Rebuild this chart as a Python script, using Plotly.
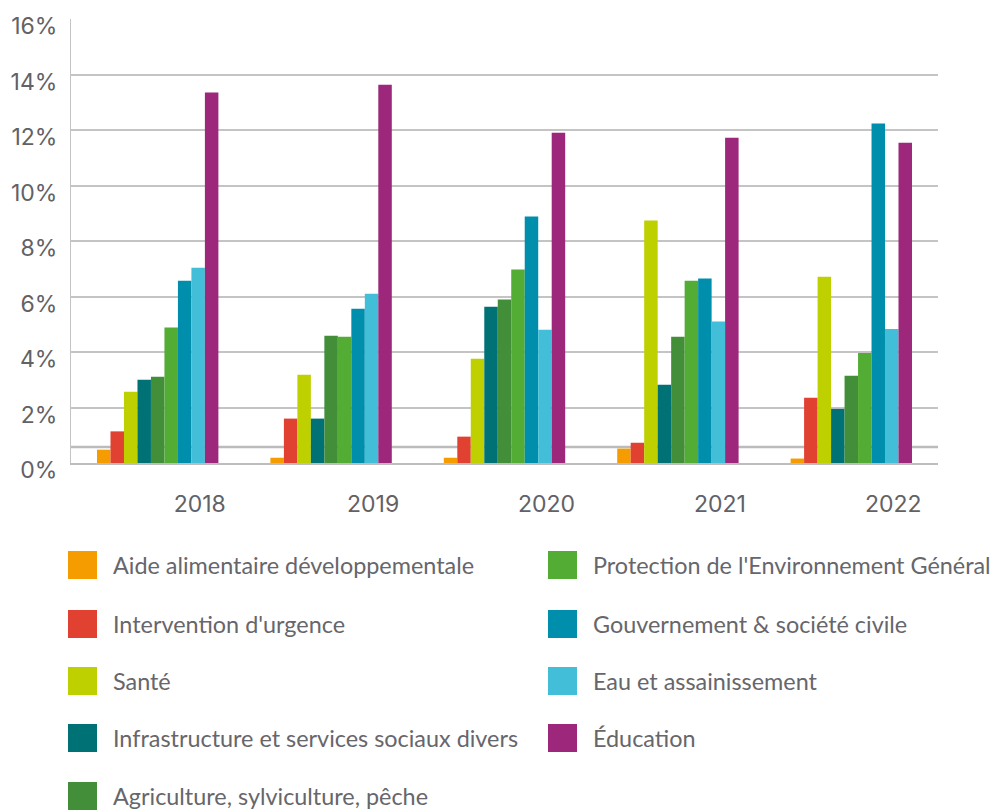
import plotly.graph_objects as go

years = ["2018", "2019", "2020", "2021", "2022"]

categories = [
    "Aide alimentaire développementale",
    "Intervention d'urgence",
    "Santé",
    "Infrastructure et services sociaux divers",
    "Agriculture, sylviculture, pêche",
    "Protection de l'Environnement Général",
    "Gouvernement & société civile",
    "Eau et assainissement",
    "Éducation",
]

aide_alimentaire = [0.48, 0.19, 0.19, 0.52, 0.16]
intervention_urgence = [1.14, 1.60, 0.95, 0.73, 2.35]
sante = [2.57, 3.18, 3.76, 8.74, 6.71]
infrastructure = [3.00, 1.60, 5.63, 2.82, 1.95]
agriculture = [3.11, 4.59, 5.89, 4.55, 3.14]
environnement = [4.88, 4.55, 6.97, 6.57, 3.96]
gouvernement = [6.57, 5.56, 8.88, 6.65, 12.23]
eau = [7.04, 6.10, 4.80, 5.10, 4.83]
education = [13.35, 13.63, 11.90, 11.72, 11.54]

series = [aide_alimentaire, intervention_urgence, sante, infrastructure,
          agriculture, environnement, gouvernement, eau, education]

colors = ["#f59c00", "#e04131", "#bed000", "#007276", "#428e39",
          "#53ad34", "#008ead", "#42bed8", "#9c277b"]

y_ticks = [0, 2, 4, 6, 8, 10, 12, 14, 16]
y_tick_labels = [f"{v}%" for v in y_ticks]

W, H = 992, 810
ML, MR, MT, MB = 71, 54, 19, 347
plot_w = W - ML - MR
plot_h = H - MT - MB

fig = go.Figure()
for name, vals, col in zip(categories, series, colors):
    fig.add_trace(go.Bar(x=years, y=vals, name=name, marker_color=col,
                         marker_line_width=0, showlegend=False))

tick_font = dict(family="Inter, Open Sans, sans-serif", size=23, color="#616166")

fig.update_layout(
    width=W, height=H,
    margin=dict(l=ML, r=MR, t=MT, b=MB, pad=0, autoexpand=False),
    paper_bgcolor="white", plot_bgcolor="white",
    barmode="group", bargap=0.3, bargroupgap=0,
    xaxis=dict(showgrid=False, showline=True, linecolor="#bdbdbd", linewidth=2,
               ticks="", tickfont=tick_font, ticklabelshift=42,
               ticklabelstandoff=19, fixedrange=True, automargin=False),
    yaxis=dict(range=[0, 16], tickvals=y_ticks, ticktext=y_tick_labels,
               showgrid=True, gridcolor="#c4c4c4", gridwidth=1.5,
               zeroline=False, showline=True, linecolor="#c4c4c4", linewidth=1,
               ticks="", tickfont=tick_font, ticklabelshift=7,
               ticklabelstandoff=8, fixedrange=True, automargin=False,
               ticklabeloverflow="allow"),
    font=dict(family="Lato, sans-serif", color="#6b6b70"),
)

# extra reference line just above the baseline (as in the original)
fig.add_shape(type="line", xref="paper", yref="y", x0=0, x1=1, y0=0.58, y1=0.58,
              line=dict(color="#bbbbbb", width=2.5), layer="below")

# custom legend (two columns, column-major)
def px_to_paper_x(px):
    return (px - ML) / plot_w

def px_to_paper_y(py):
    return (H - MB - py) / plot_h

row_y = [565, 624, 681, 738, 796]
col_sw_x = [68, 548]
col_tx_x = [110.5, 591]
for i, (name, col) in enumerate(zip(categories, colors)):
    c = 0 if i < 5 else 1
    r = i if i < 5 else i - 5
    cy = row_y[r]
    fig.add_shape(type="rect", xref="paper", yref="paper",
                  x0=px_to_paper_x(col_sw_x[c]), x1=px_to_paper_x(col_sw_x[c] + 29),
                  y0=px_to_paper_y(cy - 14), y1=px_to_paper_y(cy + 14),
                  fillcolor=col, line_width=0)
    fig.add_annotation(xref="paper", yref="paper",
                       x=px_to_paper_x(col_tx_x[c]), y=px_to_paper_y(cy),
                       text=name, showarrow=False, xanchor="left", yanchor="middle",
                       font=dict(family="Lato, sans-serif", size=23.4, color="#66666b"))

fig.write_html("out.html")
